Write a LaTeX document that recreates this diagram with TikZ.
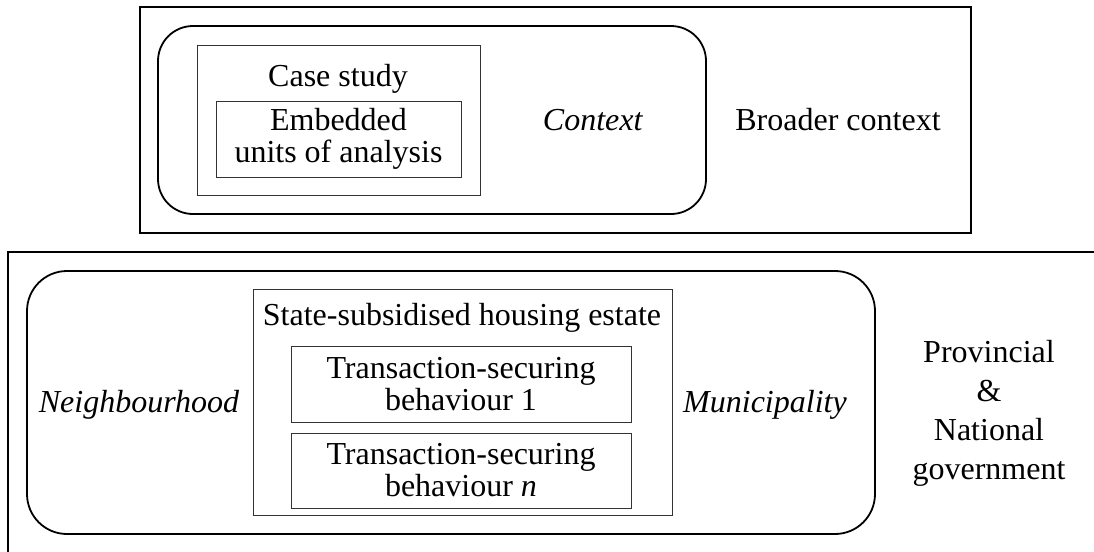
\documentclass[tikz,border=0pt]{standalone}
\usepackage{fontspec}
\setmainfont{Liberation Serif}
\usepackage{tikz}
\usepackage{xcolor}

\tikzset{
  frame/.style={line width=1pt},
  contextbox/.style={line width=0.9pt},
  unitbox/.style={draw=black!80, line width=0.5pt},
  boxtext/.style={inner sep=0.75pt, align=center, font=\fontsize{16}{16}\selectfont},
  labeltext/.style={inner sep=0.75pt, font=\fontsize{16}{19.5}\selectfont}
}

\begin{document}
\begin{tikzpicture}[x=0.5pt,y=0.5pt,yscale=-1,xscale=1]
        \useasboundingbox (0,0) rectangle (1094,552);

        %Shape: Rectangle [broader context]
        \draw [frame] (140,7) rectangle (971,233) ;
        %Shape: Rounded Rect [context]
        \draw [contextbox, rounded corners=17.5pt] (158,26) rectangle (706,214) ;
        %Shape: Rectangle [case study]
        \draw [unitbox] (197,45) rectangle (480,195) ;

        %Straight Lines [lower frame, runs off the page]
        \draw [frame] (1094,252) -- (8,252) -- (8,552) ;
        %Shape: Rounded Rect [municipality]
        \draw [contextbox, rounded corners=20pt] (27,271) rectangle (875,534) ;
        %Shape: Rectangle [housing estate]
        \draw [unitbox] (253,289) rectangle (672,515) ;

        % Text Node
        \node [labeltext, anchor=base] (casestudy) at (338,86) {Case study};
        % Box Node
        \node [unitbox, boxtext, minimum width=122.5pt, minimum height=38pt] (embedded) at (338.5,139) {Embedded\\units of analysis};
        % Text Node
        \node [labeltext, anchor=base] (context) at (593,130) {\textit{Context}};
        % Text Node
        \node [labeltext, anchor=base] (broader) at (838,130) {Broader context};

        % Text Node
        \node [labeltext, anchor=base] (estate) at (462,325) {State-subsidised housing estate};
        % Box Node
        \node [unitbox, boxtext, minimum width=170pt, minimum height=38pt] (behaviourone) at (461,384) {Transaction-securing\\behaviour 1};
        % Box Node
        \node [unitbox, boxtext, minimum width=170pt, minimum height=37.5pt] (behaviourn) at (461,470.5) {Transaction-securing\\behaviour \textit{n}};
        % Text Node
        \node [labeltext, anchor=base] (neighbourhood) at (139,412) {\textit{Neighbourhood}};
        % Text Node
        \node [labeltext, anchor=base] (municipality) at (765,412) {\textit{Municipality}};
        % Text Node
        \node [labeltext, align=center] (government) at (989,413) {Provincial\\\&\\National\\government};

\end{tikzpicture}
\end{document}
